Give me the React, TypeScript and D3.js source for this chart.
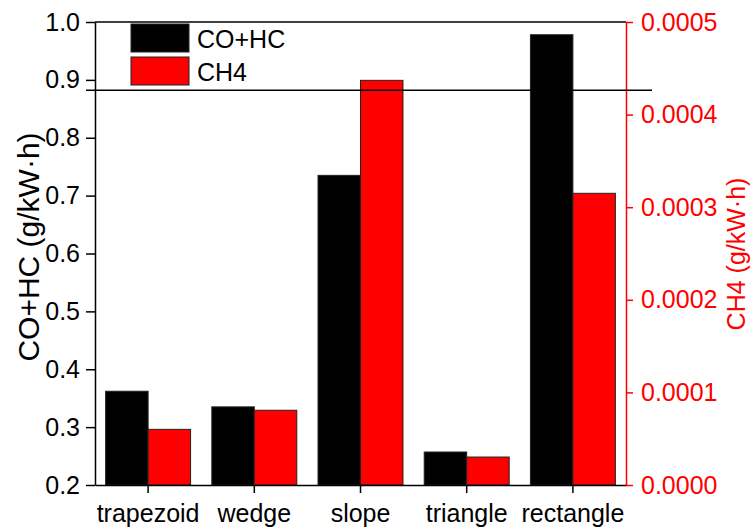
import * as d3 from 'd3';
import React, { useEffect, useRef } from 'react';

const categories = ['trapezoid', 'wedge', 'slope', 'triangle', 'rectangle'];
const coHc = [0.362, 0.335, 0.735, 0.257, 0.978];
const ch4 = [0.0000601, 0.0000807, 0.000437, 0.0000302, 0.000315];
const leftTicks = [0.2, 0.3, 0.4, 0.5, 0.6, 0.7, 0.8, 0.9, 1.0];
const rightTicks = [0, 0.0001, 0.0002, 0.0003, 0.0004, 0.0005];
const limitLine = 0.882;

function App() {
    const ref = useRef(null);

    useEffect(() => {
        const svg = d3.select(ref.current);
        svg.selectAll('*').remove();

        const left = 95, right = 626, top = 22, bottom = 485;
        const font = 'Arial, "Liberation Sans", sans-serif';

        const x = d3.scaleBand()
            .domain(categories)
            .range([left, right])
            .paddingInner(0.2)
            .paddingOuter(0.1);
        const yL = d3.scaleLinear().domain([0.2, 1.0]).range([bottom, top]);
        const yR = d3.scaleLinear().domain([0, 0.0005]).range([bottom, top]);
        const half = x.bandwidth() / 2;

        // bars
        svg.selectAll('.co')
            .data(categories)
            .enter().append('rect')
            .attr('x', d => x(d))
            .attr('y', (d, i) => yL(coHc[i]))
            .attr('width', half)
            .attr('height', (d, i) => bottom - yL(coHc[i]))
            .attr('fill', '#000')
            .attr('stroke', '#222')
            .attr('stroke-width', 1);

        svg.selectAll('.ch4')
            .data(categories)
            .enter().append('rect')
            .attr('x', d => x(d) + half)
            .attr('y', (d, i) => yR(ch4[i]))
            .attr('width', half)
            .attr('height', (d, i) => bottom - yR(ch4[i]))
            .attr('fill', '#ff0000')
            .attr('stroke', '#222')
            .attr('stroke-width', 1);

        // frame
        svg.append('line').attr('x1', left).attr('x2', right).attr('y1', top).attr('y2', top)
            .attr('stroke', '#000').attr('stroke-width', 1.5);

        const xAxis = svg.append('g')
            .attr('transform', `translate(0,${bottom})`)
            .call(d3.axisBottom(x).tickSize(8).tickSizeOuter(0));
        xAxis.select('.domain').attr('stroke-width', 1.5);
        xAxis.selectAll('line').attr('stroke-width', 1.5);
        xAxis.selectAll('text').attr('font-size', 25).attr('font-family', font)
            .attr('fill', '#000').attr('y', 37).attr('dy', 0);

        const lAxis = svg.append('g')
            .attr('transform', `translate(${left},0)`)
            .call(d3.axisLeft(yL).tickValues(leftTicks).tickFormat(d3.format('.1f')).tickSize(9).tickSizeOuter(0));
        lAxis.select('.domain').attr('stroke-width', 1.5);
        lAxis.selectAll('line').attr('stroke-width', 1.5);
        lAxis.selectAll('text').attr('font-size', 25).attr('font-family', font)
            .attr('fill', '#000').attr('x', -15);

        const rAxis = svg.append('g')
            .attr('transform', `translate(${right},0)`)
            .call(d3.axisRight(yR).tickValues(rightTicks).tickFormat(d3.format('.4f')).tickSize(7).tickSizeOuter(0));
        rAxis.select('.domain').attr('stroke', '#ff0000').attr('stroke-width', 1.5);
        rAxis.selectAll('line').attr('stroke', '#ff0000').attr('stroke-width', 1.5);
        rAxis.selectAll('text').attr('font-size', 25).attr('font-family', font)
            .attr('fill', '#ff0000').attr('x', 15);

        // limit line
        svg.append('line')
            .attr('x1', left - 9).attr('x2', right + 26)
            .attr('y1', yL(limitLine)).attr('y2', yL(limitLine))
            .attr('stroke', '#000').attr('stroke-width', 1.5);

        // axis titles
        svg.append('text')
            .attr('transform', `translate(39,247) rotate(-90)`)
            .attr('text-anchor', 'middle')
            .attr('font-size', 30).attr('font-family', font)
            .text('CO+HC (g/kW·h)');
        svg.append('text')
            .attr('transform', `translate(745,254) rotate(-90)`)
            .attr('text-anchor', 'middle')
            .attr('font-size', 25).attr('font-family', font)
            .attr('fill', '#ff0000')
            .text('CH4 (g/kW·h)');

        // legend
        const legend = [['CO+HC', '#000'], ['CH4', '#ff0000']];
        const lg = svg.append('g');
        legend.forEach(([label, color], i) => {
            lg.append('rect')
                .attr('x', 131).attr('y', 24 + i * 33)
                .attr('width', 58).attr('height', 28)
                .attr('fill', color).attr('stroke', '#222').attr('stroke-width', 1);
            lg.append('text')
                .attr('x', 197).attr('y', 48 + i * 33)
                .attr('font-size', 25).attr('font-family', font)
                .text(label);
        });
    }, []);

    return <svg ref={ref} width={753} height={528} style={{ position: 'absolute', left: 0, top: 0, background: '#fff' }}></svg>;
}

export default App;
